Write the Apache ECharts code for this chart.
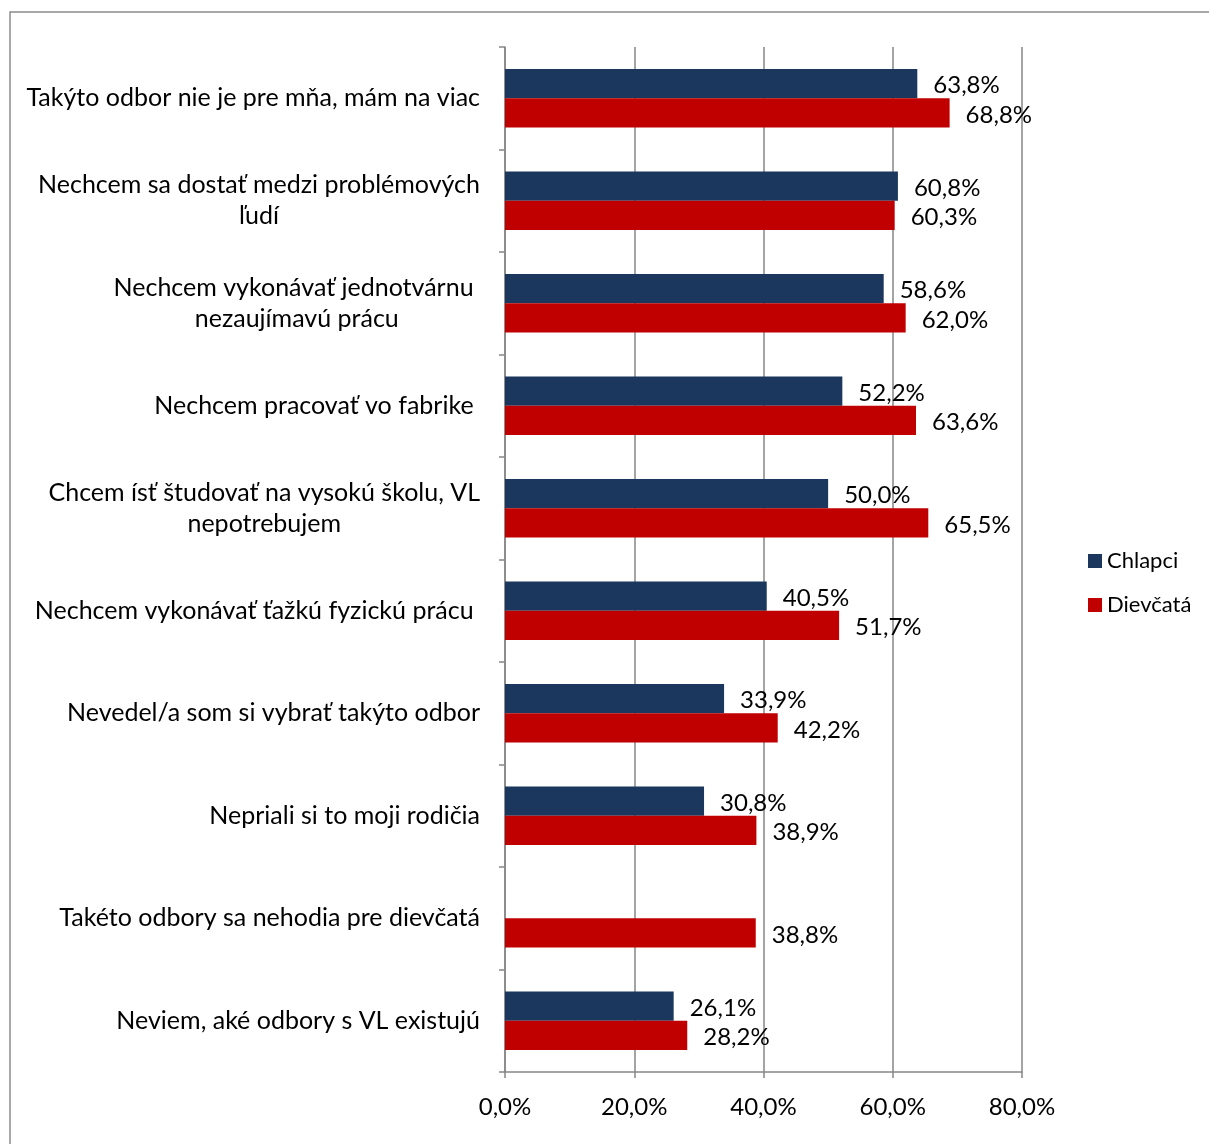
<!DOCTYPE html>
<html><head><meta charset="utf-8">
<script src="https://cdn.jsdelivr.net/npm/echarts@6/dist/echarts.min.js"></script>
<style>html,body{margin:0;padding:0;background:#fff}#c{width:1209px;height:1144px}</style>
</head><body><div id="c"></div>
<script>
const categories = [
  "Takýto odbor nie je pre mňa, mám na viac",
  "Nechcem sa dostať medzi problémových\nľudí",
  "Nechcem vykonávať jednotvárnu \nnezaujímavú prácu",
  "Nechcem pracovať vo fabrike ",
  "Chcem ísť študovať na vysokú školu, VL\nnepotrebujem",
  "Nechcem vykonávať ťažkú fyzickú prácu ",
  "Nevedel/a som si vybrať takýto odbor",
  "Nepriali si to moji rodičia",
  "Takéto odbory sa nehodia pre dievčatá",
  "Neviem, aké odbory s VL existujú"
];
const chlapci = [63.8, 60.8, 58.6, 52.2, 50.0, 40.5, 33.9, 30.8, '-', 26.1];
const dievcata = [68.8, 60.3, 62.0, 63.6, 65.5, 51.7, 42.2, 38.9, 38.8, 28.2];
const seriesNames = ["Chlapci", "Dievčatá"];
const xTicks = [0, 20, 40, 60, 80];

const FONT = 'Lato';
const fmt = v => Number(v).toFixed(1).replace('.', ',') + '%';
const chart = echarts.init(document.getElementById('c'));
const lbl = {
  show: true, position: 'right', distance: 16, offset: [0, 2],
  fontFamily: FONT, fontSize: 24, color: '#000',
  formatter: p => fmt(p.value)
};
chart.setOption({
  animation: false,
  textStyle: { fontFamily: FONT },
  graphic: [{
    type: 'rect', shape: { x: 10, y: 12, width: 1400, height: 1400 },
    style: { fill: 'none', stroke: '#8c8c8c', lineWidth: 1.5 }, silent: true
  }],
  grid: { left: 505, right: 187, top: 47, bottom: 72, containLabel: false },
  legend: {
    orient: 'vertical', left: 1083, top: 545,
    itemWidth: 14, itemHeight: 14, itemGap: 22,
    icon: 'rect',
    textStyle: { fontFamily: FONT, fontSize: 22, color: '#000' },
    data: seriesNames
  },
  xAxis: {
    type: 'value', min: xTicks[0], max: xTicks[xTicks.length - 1], interval: 20,
    axisLine: { show: true, lineStyle: { color: '#868686', width: 1.5 } },
    axisTick: { show: true, length: 6, inside: false, lineStyle: { color: '#868686', width: 1.5 } },
    splitLine: { show: true, lineStyle: { color: '#868686', width: 1.5 } },
    axisLabel: { fontFamily: FONT, fontSize: 24, color: '#000', margin: 23, formatter: v => fmt(v) }
  },
  yAxis: {
    type: 'category', inverse: true, data: categories,
    axisLine: { show: true, lineStyle: { color: '#868686', width: 1.5 } },
    axisTick: { show: true, length: 6, lineStyle: { color: '#868686', width: 1.5 } },
    splitLine: { show: false },
    axisLabel: {
      margin: 25, align: 'right', fontFamily: FONT, fontSize: 25, color: '#000',
      lineHeight: 31,
      formatter: v => v.split('\n').map(l => '{c|' + l + '}').join('\n'),
      rich: { c: { align: 'center', fontFamily: FONT, fontSize: 25, color: '#000', lineHeight: 31 } }
    }
  },
  series: [
    { name: seriesNames[0], type: 'bar', data: chlapci, barGap: '0%', barCategoryGap: '43%',
      itemStyle: { color: '#1b375e' }, label: lbl },
    { name: seriesNames[1], type: 'bar', data: dievcata, barGap: '0%', barCategoryGap: '43%',
      itemStyle: { color: '#c00000' }, label: lbl }
  ]
});
</script></body></html>
